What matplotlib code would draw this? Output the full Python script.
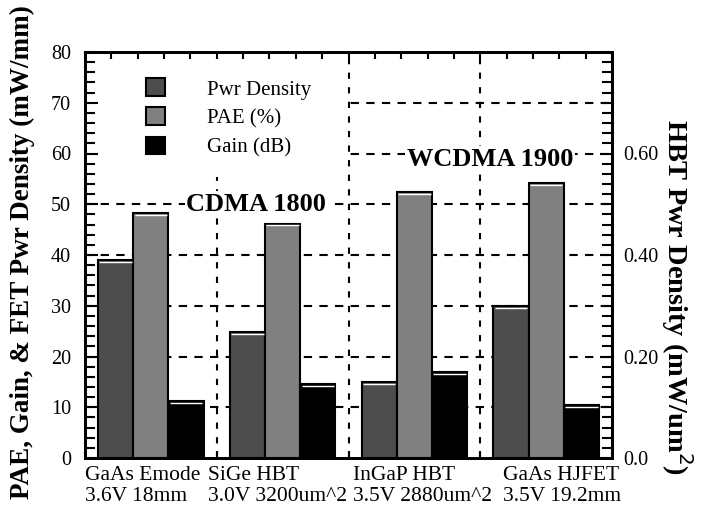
import matplotlib
matplotlib.use("Agg")
import matplotlib.pyplot as plt
import numpy as np
from matplotlib.patches import Patch, Rectangle
from matplotlib.ticker import MultipleLocator, FixedLocator
import matplotlib.transforms as mtrans

plt.rcParams['font.family'] = ['Liberation Serif', 'DejaVu Serif']

categories_line1 = ["GaAs Emode", "SiGe HBT", "InGaP HBT", "GaAs HJFET"]
categories_line2 = ["3.6V 18mm", "3.0V 3200um^2", "3.5V 2880um^2", "3.5V 19.2mm"]
pwr_density = [39.0, 24.9, 15.0, 30.0]
pae = [48.2, 46.2, 52.4, 54.1]
gain = [11.2, 14.6, 17.0, 10.4]
series_names = ["Pwr Density", "PAE (%)", "Gain (dB)"]
series_colors = ["#4d4d4d", "#808080", "#000000"]
label_x = [-0.5, 0.434, 1.534, 2.673]
left_ticks = [0, 10, 20, 30, 40, 50, 60, 70, 80]
right_ticks = [0.0, 0.2, 0.4, 0.6]
right_labels = ["0.0", "0.20", "0.40", "0.60"]

W, H = 703, 512
fig = plt.figure(figsize=(W/100, H/100), dpi=100)
L, R, T, B = 85, 612, 52, 458
ax = fig.add_axes([L/W, 1-B/H, (R-L)/W, (B-T)/H])

x = np.arange(len(categories_line1))
bw = 0.267
for i, (vals, col) in enumerate(zip([pwr_density, pae, gain], series_colors)):
    pos = x + (i-1)*bw
    ax.bar(pos, vals, bw, color=col, edgecolor='black', linewidth=1.5, zorder=2)
    # thin white highlight just under the top edge
    for p, v in zip(pos, vals):
        ax.plot([p - bw/2 + 0.01, p + bw/2 - 0.01], [v - 0.38, v - 0.38], color='white',
                lw=1.0, zorder=2.1, solid_capstyle='butt')

ax.set_xlim(-0.5, 3.5)
ax.set_ylim(0, 80)

# grid
for yv in range(10, 80, 10):
    ax.axhline(yv, color='black', lw=1.5, ls=(0, (4, 3.5)), zorder=0.5)
for xv in [0.5, 1.5, 2.5]:
    ax.axvline(xv, color='black', lw=1.5, ls=(0, (3, 4)), zorder=0.5)

# white area behind legend
ax.add_patch(Rectangle((-0.5, 55.3), 1.99, 24.7, facecolor='white', edgecolor='none', zorder=0.8))

# ticks
ax.yaxis.set_major_locator(FixedLocator(left_ticks))
ax.yaxis.set_minor_locator(MultipleLocator(2))
ax.tick_params(axis='y', which='major', direction='in', length=9, width=1.5, labelsize=14.5, pad=10, right=False)
ax.tick_params(axis='y', which='minor', direction='in', length=7, width=1.5, right=False)
ax.set_xticks([])
ax.xaxis.set_minor_locator(FixedLocator(np.arange(-0.5, 3.51, 0.2)))
ax.tick_params(axis='x', which='minor', direction='in', length=5, width=1.5, top=True, bottom=True)
for s in ax.spines.values():
    s.set_linewidth(2)

ax2 = ax.twinx()
ax2.set_ylim(0, 0.8)
ax2.set_yticks(right_ticks)
ax2.set_yticklabels(right_labels)
ax2.yaxis.set_minor_locator(MultipleLocator(0.02))
ax2.tick_params(axis='y', which='major', direction='in', length=9, width=1.5, labelsize=14.5, pad=8)
ax2.tick_params(axis='y', which='minor', direction='in', length=7, width=1.5)
for s in ax2.spines.values():
    s.set_linewidth(2)

# category labels (two lines each)
tr = mtrans.blended_transform_factory(ax.transData, ax.transAxes)
for xl, l1, l2 in zip(label_x, categories_line1, categories_line2):
    ax.annotate(l1 + "\n" + l2, xy=(xl, 0), xycoords=tr, xytext=(0, -5.8), textcoords='offset points',
                ha='left', va='top', fontsize=15.5, linespacing=1.17, multialignment='left',
                annotation_clip=False)

# annotations
ax.text(0.8, 50, "CDMA 1800", fontsize=19, fontweight='bold', ha='center', va='center',
        bbox=dict(facecolor='white', edgecolor='none', pad=1), zorder=3)
ax.text(2.574, 58.9, "WCDMA 1900", fontsize=19, fontweight='bold', ha='center', va='center',
        bbox=dict(facecolor='white', edgecolor='none', pad=1), zorder=3)

handles = [Patch(facecolor=c, edgecolor='black', linewidth=1.5) for c in series_colors]
leg = ax.legend(handles, series_names, loc='upper left', bbox_to_anchor=(0.115, 0.935),
                frameon=False, fontsize=15, handlelength=0.95, handleheight=0.95,
                handletextpad=2.0, labelspacing=0.38, borderpad=0, borderaxespad=0)
leg.set_zorder(4)

fig.text(22/W, 1-252/H, "PAE, Gain, & FET Pwr Density (mW/mm)", rotation=90, ha='center', va='center',
         fontsize=19.5, fontweight='bold')
fig.text(677/W, 1-297/H, "HBT Pwr Density (mW/um$^{2}$)", rotation=270, ha='center', va='center',
         fontsize=20.4, fontweight='bold')

fig.savefig("out.png", dpi=100)
